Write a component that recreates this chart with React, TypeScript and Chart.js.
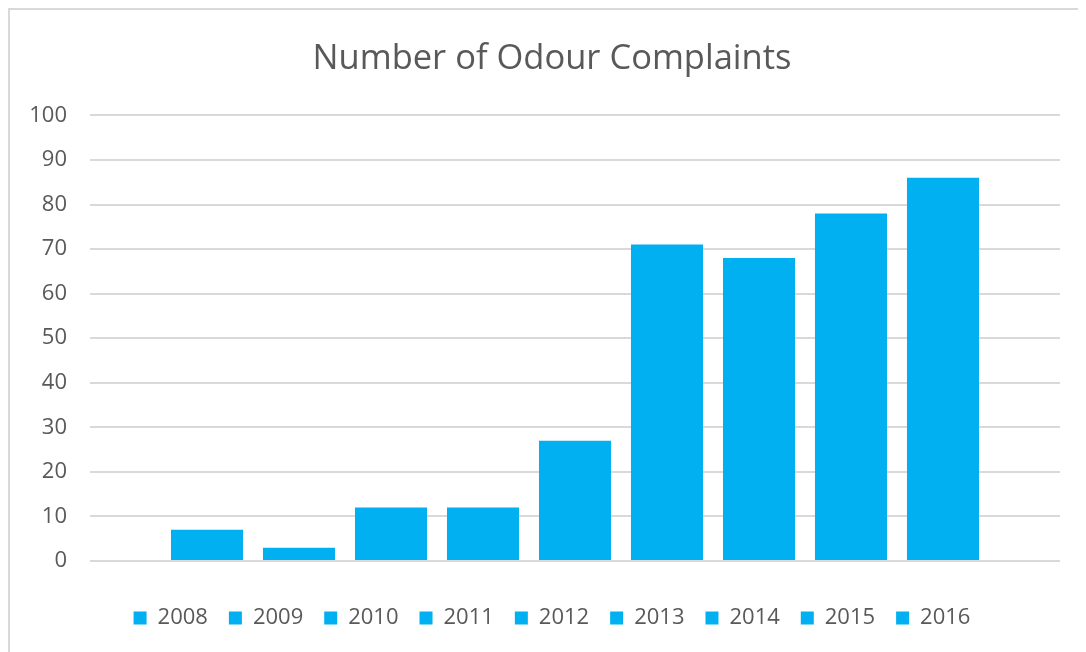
import React, { useEffect, useRef } from "react";
import { Chart, registerables } from "chart.js";

Chart.register(...registerables);

const years = ["2008", "2009", "2010", "2011", "2012", "2013", "2014", "2015", "2016"];
const complaints = [7, 3, 12, 12, 27, 71, 68, 78, 86];
const categoryLabels = [""];
const titleText = "Number of Odour Complaints";
const barColor = "#00B0F0";
const textColor = "#595959";
const gridColor = "#D9D9D9";
const fontFamily = "'Open Sans', 'DejaVu Sans', sans-serif";

export default function App() {
  const canvasRef = useRef<HTMLCanvasElement | null>(null);

  useEffect(() => {
    if (!canvasRef.current) return;
    const chart = new Chart(canvasRef.current, {
      type: "bar",
      data: {
        labels: categoryLabels,
        datasets: years.map((y, i) => ({
          label: y,
          data: [complaints[i]],
          backgroundColor: barColor,
          borderWidth: 0,
          categoryPercentage: 0.8536,
          barPercentage: 0.783,
        })),
      },
      options: {
        animation: false,
        responsive: true,
        maintainAspectRatio: false,
        layout: { padding: { left: 8, right: 0, top: 0, bottom: 13 } },
        plugins: {
          title: {
            display: true,
            text: titleText,
            color: textColor,
            font: { family: fontFamily, size: 34.5, weight: "normal" },
            padding: { top: 28, bottom: 36 },
          },
          legend: {
            display: true,
            position: "bottom",
            labels: {
              boxWidth: 13,
              boxHeight: 13,
              padding: 21,
              color: textColor,
              font: { family: fontFamily, size: 22 },
            },
          },
          tooltip: { enabled: false },
        },
        scales: {
          x: {
            display: true,
            grid: { display: false },
            border: { display: false },
            ticks: { display: false },
            afterFit: (scale: any) => {
              scale.height = 25;
            },
          },
          y: {
            min: 0,
            max: 100,
            ticks: {
              stepSize: 10,
              color: textColor,
              padding: 23,
              font: { family: fontFamily, size: 22 },
            },
            grid: { color: gridColor, lineWidth: 2, drawTicks: false },
            border: { display: false },
            afterFit: (scale: any) => {
              scale.width = 72;
            },
          },
          yRight: {
            type: "linear",
            position: "right",
            display: true,
            grid: { display: false },
            border: { display: false },
            ticks: { display: false },
            afterFit: (scale: any) => {
              scale.width = 26;
            },
          },
        },
      },
    });
    return () => chart.destroy();
  }, []);

  return (
    <div
      style={{
        borderLeft: "2px solid #D9D9D9",
        borderTop: "2px solid #D9D9D9",
        width: 1076,
        height: 642,
        background: "#fff",
      }}
    >
      <div style={{ position: "relative", width: 1076, height: 642 }}>
        <canvas ref={canvasRef} />
      </div>
    </div>
  );
}
